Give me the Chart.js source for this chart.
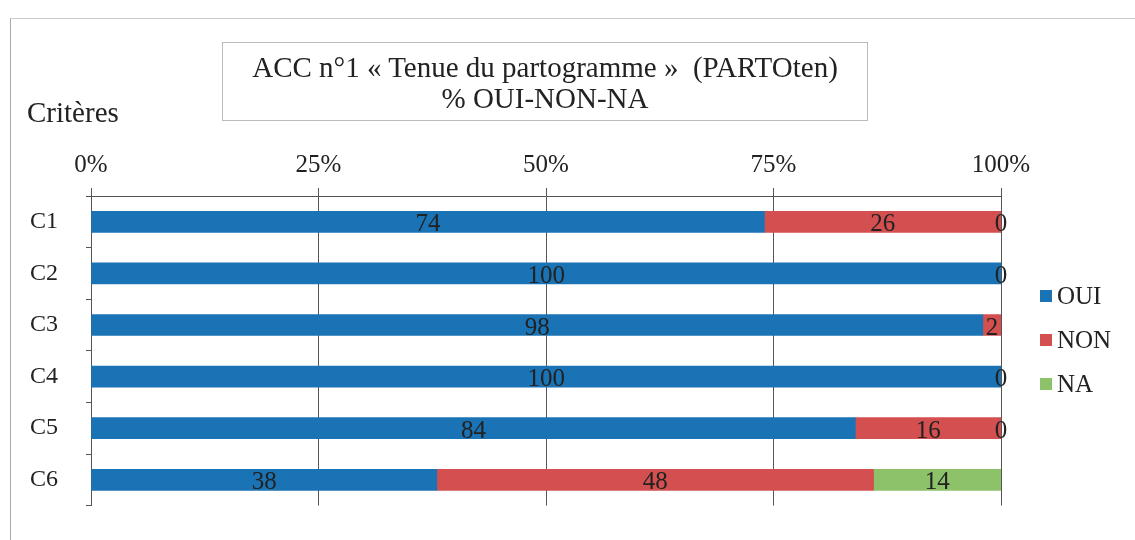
<!DOCTYPE html>
<html>
<head>
<meta charset="utf-8">
<script src="https://cdn.jsdelivr.net/npm/chart.js@4"></script>
<style>
  body { margin: 0; background: #fff; font-family: "Liberation Serif", serif; overflow: hidden; }
  #wrap { position: relative; width: 1135px; height: 540px; overflow: hidden; }
  #frame { position: absolute; left: 10px; top: 18px; width: 1124px; height: 521px; border-left: 1px solid #aaa; border-top: 1px solid #ccc; }
  #title { position: absolute; left: 222px; top: 42px; width: 646px; height: 79px; border: 1px solid #bbb;
           text-align: center; font-size: 29px; line-height: 31px; color: #222; padding-top: 9px; box-sizing: border-box; }
  #yTitle { position: absolute; left: 27px; top: 96px; font-size: 29px; color: #222; }
  #legend { position: absolute; left: 1040px; top: 274px; font-size: 25px; color: #222; }
  #legend div { height: 44px; display: flex; align-items: center; }
  #legend span { display: inline-block; width: 12px; height: 12px; margin-right: 5px; }
  canvas { position: absolute; left: 0; top: 0; }
</style>
</head>
<body>
<div id="wrap">
  <div id="frame"></div>
  <canvas id="chart" width="1135" height="548"></canvas>
  <div id="title">ACC n°1 « Tenue du partogramme »&nbsp; (PARTOten)<br>% OUI-NON-NA</div>
  <div id="yTitle">Critères</div>
  <div id="legend"></div>
</div>
<script>
const categories = ["C1", "C2", "C3", "C4", "C5", "C6"];
const seriesNames = ["OUI", "NON", "NA"];
const ouiValues = [74, 100, 98, 100, 84, 38];
const nonValues = [26, null, 2, null, 16, 48];
const naValues = [0, 0, null, 0, 0, 14];
const seriesColors = ["#1a73b5", "#d44f4f", "#8dc16a"];
const xTicks = [0, 25, 50, 75, 100];

// valeurs dans les barres
const barLabels = {
  id: "barLabels",
  afterDatasetsDraw(chart) {
    const ctx = chart.ctx;
    ctx.save();
    ctx.font = "25px 'Liberation Serif'";
    ctx.fillStyle = "#222";
    ctx.textAlign = "center";
    ctx.textBaseline = "middle";
    chart.data.datasets.forEach((ds, i) => {
      chart.getDatasetMeta(i).data.forEach((bar, j) => {
        const v = ds.data[j];
        if (v === null || v === undefined) return;
        const cx = (bar.x + bar.base) / 2;
        ctx.fillText(String(v), cx, bar.y + 3);
      });
    });
    ctx.restore();
  }
};

const datasets = [ouiValues, nonValues, naValues].map((vals, i) => ({
  label: seriesNames[i],
  data: vals,
  backgroundColor: seriesColors[i],
  barThickness: 21
}));

new Chart(document.getElementById("chart").getContext("2d"), {
  type: "bar",
  data: { labels: categories, datasets: datasets },
  plugins: [barLabels],
  options: {
    indexAxis: "y",
    responsive: false,
    animation: false,
    layout: { padding: { top: 143, bottom: 10, right: 134, left: 0 } },
    plugins: { legend: { display: false }, tooltip: { enabled: false } },
    scales: {
      x: {
        position: "top",
        stacked: true,
        min: 0,
        max: 100,
        afterFit: s => { s.height = 53; },
        afterBuildTicks: s => { s.ticks = xTicks.map(v => ({ value: v })); },
        ticks: {
          callback: v => v + "%",
          font: { family: "Liberation Serif", size: 25 },
          color: "#222",
          padding: 8,
          maxRotation: 0
        },
        grid: { color: "#555", lineWidth: 1, tickLength: 8 },
        border: { color: "#555" }
      },
      y: {
        stacked: true,
        afterFit: s => { s.width = 91; },
        ticks: {
          font: { family: "Liberation Serif", size: 24 },
          color: "#222",
          padding: 28
        },
        grid: { offset: true, drawOnChartArea: false, tickLength: 5, color: "#555" },
        border: { color: "#555" }
      }
    }
  }
});

const legend = document.getElementById("legend");
seriesNames.forEach((name, i) => {
  const row = document.createElement("div");
  row.innerHTML = `<span style="background:${seriesColors[i]}"></span>${name}`;
  legend.appendChild(row);
});
</script>
</body>
</html>
